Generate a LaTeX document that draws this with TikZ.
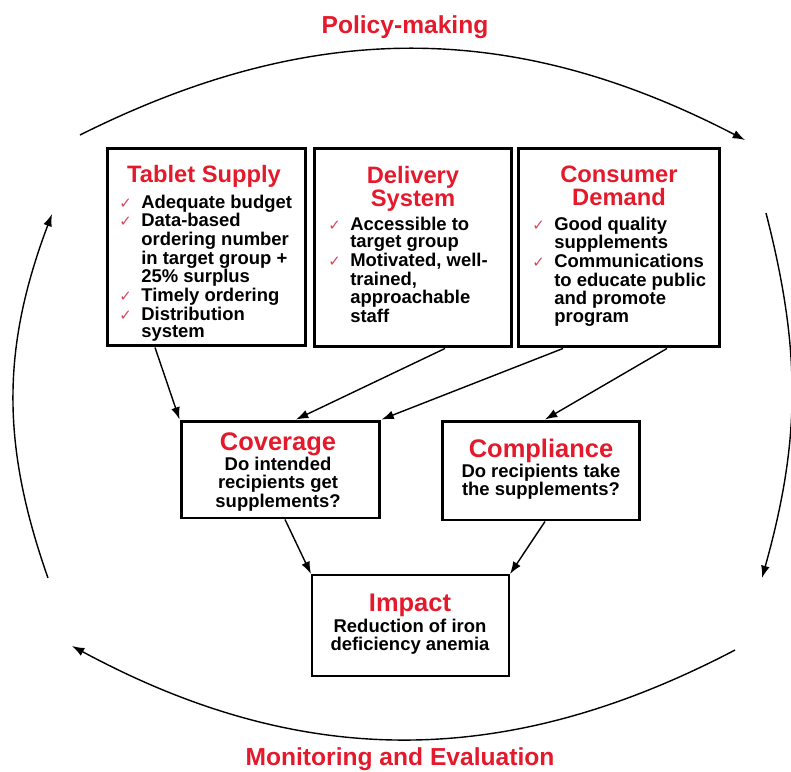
\documentclass[tikz,border=0pt]{standalone}
\usepackage{fontspec}
\setmainfont{Liberation Sans}
\newfontfamily\tickfont{DejaVu Sans}
\usetikzlibrary{arrows.meta}

\definecolor{titlered}{RGB}{228,26,44}
\definecolor{tickred}{RGB}{214,72,92}
\newcommand{\chk}{\makebox[12.5pt][l]{\textcolor{tickred}{\tickfont\fontsize{8.5}{8.5}\selectfont ✓}}}
\newcommand{\lines}[2]{\begin{tabular}[t]{@{}#1@{}}#2\end{tabular}}

\tikzset{
  panel/.style={draw, line width=1.7pt, inner sep=0pt},
  heading/.style={text=titlered, font=\fontsize{13.5}{12.5}\selectfont\bfseries, inner sep=0pt, anchor=base},
  bigheading/.style={heading, font=\fontsize{14.5}{14}\selectfont\bfseries},
  points/.style={font=\fontsize{10.5}{10.1}\selectfont\bfseries, inner sep=0pt, anchor=base west},
  answer/.style={points, anchor=base},
  flow/.style={-{Latex[length=7pt,width=5pt]}, line width=0.8pt},
  cycle arrow/.style={-{Latex[length=7pt,width=5pt]}, line width=0.8pt},
}

\begin{document}
\begin{tikzpicture}[x=0.02cm, y=-0.02cm]
\useasboundingbox (0,0) rectangle (791,771);

% the three inputs
\node[panel, minimum width=3.98cm, minimum height=3.96cm] (supply) at (206.5,247) {};
\node[panel, minimum width=3.96cm, minimum height=3.98cm] (delivery) at (413,247.5) {};
\node[panel, minimum width=4.04cm, minimum height=3.98cm] (demand) at (619,247.5) {};

\node[heading] (supply title) at (204,182) {Tablet Supply};
\node[points] (supply list) at (119,208) {\lines{l@{}l}{%
  \chk & Adequate budget\\
  \chk & Data-based\\
       & ordering number\\
       & in target group +\\
       & 25\% surplus\\
  \chk & Timely ordering\\
  \chk & Distribution\\
       & system}};

\node[heading] (delivery title) at (413,183) {\lines{c}{Delivery\\System}};
\node[points] (delivery list) at (328,230) {\lines{l@{}l}{%
  \chk & Accessible to\\
       & target group\\
  \chk & Motivated, well-\\
       & trained,\\
       & approachable\\
       & staff}};

\node[heading] (demand title) at (619,182) {\lines{c}{Consumer\\Demand}};
\node[points] (demand list) at (532,230) {\lines{l@{}l}{%
  \chk & Good quality\\
       & supplements\\
  \chk & Communications\\
       & to educate public\\
       & and promote\\
       & program}};

% outputs
\node[panel, minimum width=3.98cm, minimum height=1.94cm] (coverage) at (280.5,469.5) {};
\node[bigheading] (coverage title) at (278,450) {Coverage};
\node[answer] (coverage text) at (278,470) {\lines{c}{Do intended\\recipients get\\supplements?}};

\node[panel, minimum width=3.96cm, minimum height=1.98cm] (compliance) at (541,470.5) {};
\node[bigheading] (compliance title) at (541,457) {Compliance};
\node[answer] (compliance text) at (541,477) {\lines{c}{Do recipients take\\the supplements?}};

\node[panel, line width=1.2pt, minimum width=3.94cm, minimum height=2.02cm] (impact) at (410.5,625.5) {};
\node[bigheading] (impact title) at (410,611) {Impact};
\node[answer] (impact text) at (410,632) {\lines{c}{Reduction of iron\\deficiency anemia}};

\draw[flow] ([xshift=-1.03cm]supply.south) -- (coverage.north west);
\draw[flow] ([xshift=0.64cm]delivery.south) -- ([xshift=0.31cm]coverage.north);
\draw[flow] ([xshift=-1.12cm]demand.south) -- (coverage.north east);
\draw[flow] ([xshift=0.96cm]demand.south) -- ([xshift=0.08cm]compliance.north);
\draw[flow] ([xshift=0.09cm]coverage.south) -- (impact.north west);
\draw[flow] ([xshift=0.08cm]compliance.south) -- (impact.north east);

% outer cycle
\node[heading, font=\fontsize{14}{14}\selectfont\bfseries] (policy) at (405,33) {Policy-making};
\node[heading, font=\fontsize{14}{14}\selectfont\bfseries] (monitoring) at (400,765) {Monitoring and Evaluation};

\coordinate (top a) at (80,135);
\coordinate (top b) at (745,140);
\coordinate (right a) at (766,213);
\coordinate (right b) at (762,578);
\coordinate (bottom a) at (735,650);
\coordinate (bottom b) at (72,646);
\coordinate (left a) at (48,578);
\coordinate (left b) at (52,214);

\draw[cycle arrow] (top a) to[bend left=27] (top b);
\draw[cycle arrow] (right a) to[bend left=15] (right b);
\draw[cycle arrow] (bottom a) to[bend left=28] (bottom b);
\draw[cycle arrow] (left a) to[bend left=20] (left b);
\end{tikzpicture}
\end{document}
